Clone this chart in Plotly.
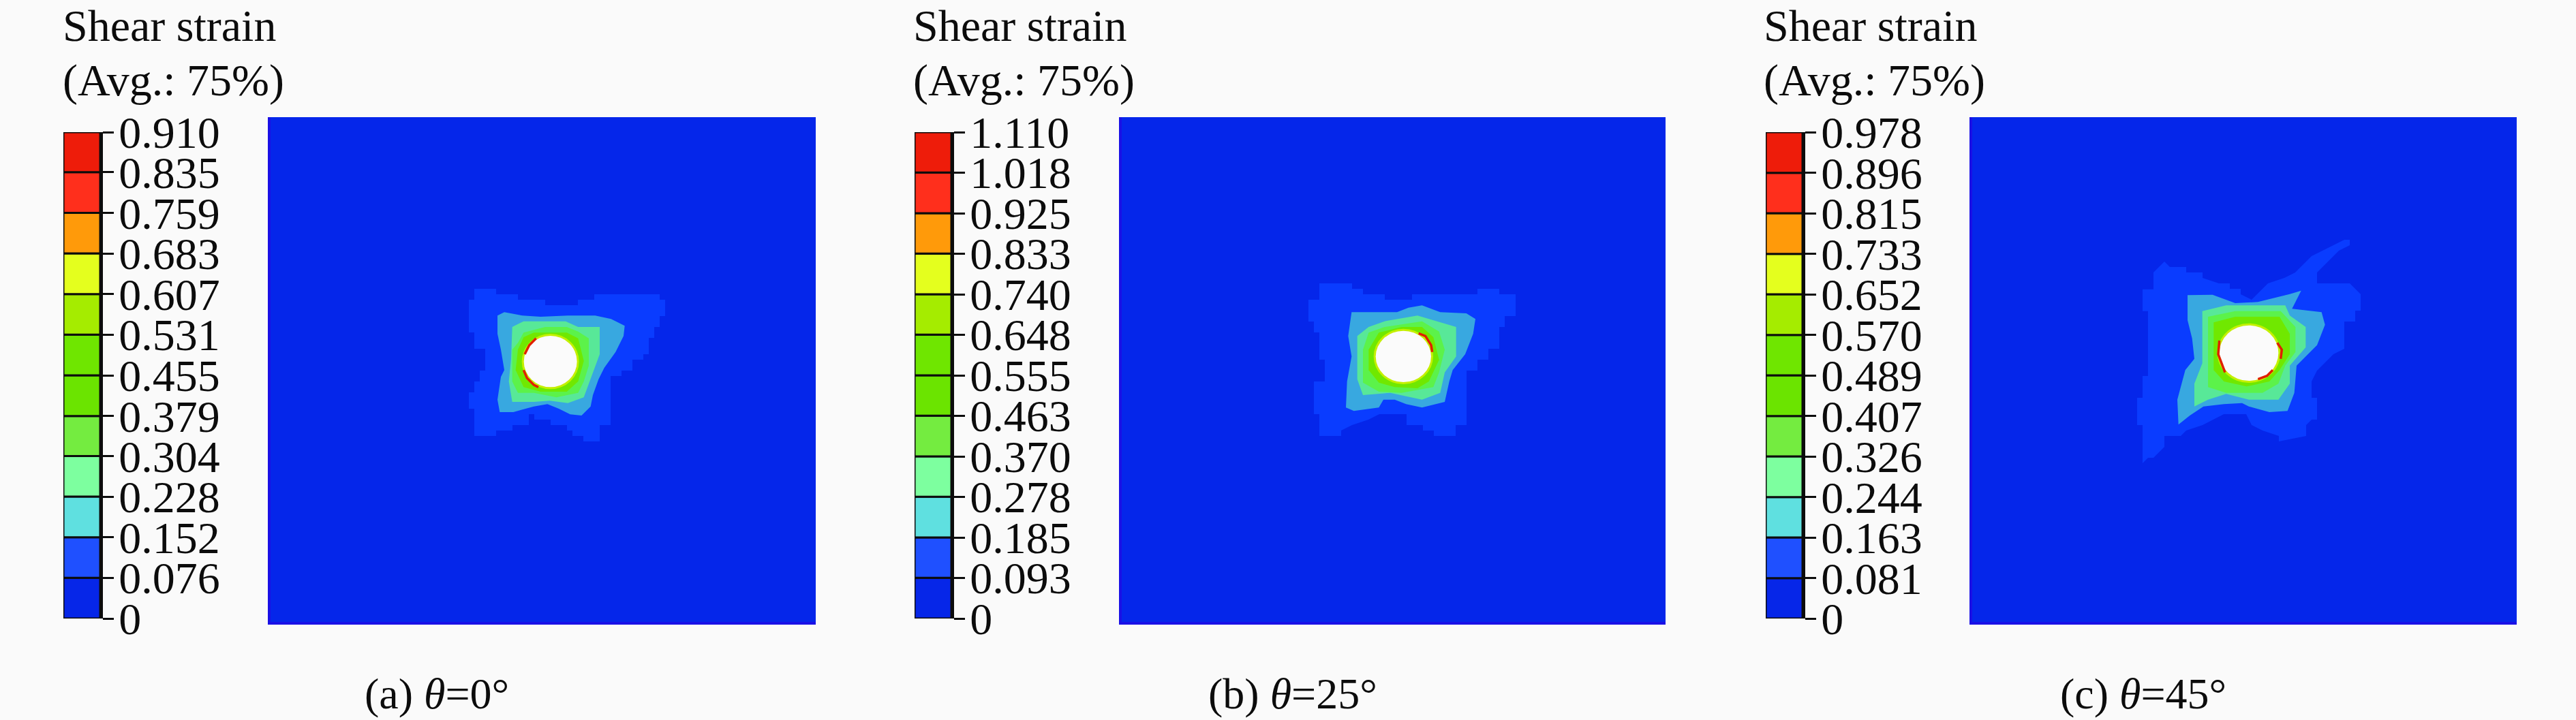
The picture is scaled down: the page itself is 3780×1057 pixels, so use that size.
import plotly.graph_objects as go

W, H = 3780, 1057
BG = "#fafafa"
INK = "#0c0c0c"
FONT = "Liberation Serif"

PANEL_NAMES = ["(a) <i>θ</i>=0°", "(b) <i>θ</i>=25°", "(c) <i>θ</i>=45°"]
TITLE_LINES = ["Shear strain", "(Avg.: 75%)"]

TICKS_A = [0, 0.076, 0.152, 0.228, 0.304, 0.379, 0.455, 0.531, 0.607, 0.683, 0.759, 0.835, 0.910]
TICKS_B = [0, 0.093, 0.185, 0.278, 0.370, 0.463, 0.555, 0.648, 0.740, 0.833, 0.925, 1.018, 1.110]
TICKS_C = [0, 0.081, 0.163, 0.244, 0.326, 0.407, 0.489, 0.570, 0.652, 0.733, 0.815, 0.896, 0.978]
BAND_COLORS = ["#0626e8", "#1f50ff", "#5fe0e0", "#7dff9f", "#74ec40", "#6be400",
               "#6fe600", "#a5ec00", "#e4ff1e", "#ff9a0a", "#ff2f1c", "#ee1c0a"]

FIELD_BASE = "#0526ea"
FIELD_COLORS = ["#0a3cff", "#38a8e0", "#58e898", "#5cf24a", "#70e800"]
RIM_COLOR = "#c4f000"
HOLE_COLOR = "#fbfbfb"
PEAK_COLOR = "#e02000"

# contour outlines, one list per band, lowest band first
A_BAND1 = [(168,132),(264,132),(264,156),(360,156),(360,180),(480,180),(480,204),(624,204),(624,180),(696,180),(696,156),(984,156),(984,180),(1008,180),(1008,252),(984,252),(984,300),(960,300),(960,348),(936,348),(936,420),(912,420),(912,444),(864,444),(864,492),(816,492),(816,516),(768,516),(768,732),(720,732),(720,804),(648,804),(648,780),(600,780),(600,756),(576,756),(576,732),(504,732),(504,708),(432,708),(432,684),(408,684),(408,732),(336,732),(336,756),(264,756),(264,780),(168,780),(168,660),(144,660),(144,588),(168,588),(168,540),(192,540),(192,492),(216,492),(216,396),(168,396),(168,324),(144,324),(144,180),(168,180)]
A_BAND2 = [(270,250),(300,235),(380,250),(460,255),(580,250),(700,250),(770,265),(830,295),(825,340),(790,410),(740,480),(715,530),(690,600),(680,650),(640,690),(590,685),(540,660),(490,640),(430,650),(340,675),(280,675),(270,620),(285,520),(300,490),(285,400),(270,330)]
A_BAND3 = [(335,300),(385,275),(480,275),(570,275),(625,300),(720,300),(720,420),(695,490),(670,560),(650,610),(580,635),(500,625),(430,630),(335,630),(320,540),(330,440)]
A_BAND4 = [(385,325),(480,300),(575,300),(625,320),(672,350),(672,470),(650,540),(625,590),(530,610),(430,590),(360,590),(335,540),(335,400),(360,370)]
A_BAND5 = [(385,345),(430,325),(575,325),(625,350),(650,450),(625,540),(575,585),(460,585),(385,565),(350,490),(360,400)]
A_PEAKS = [[(385,490),(400,525),(430,555),(450,565)], [(440,350),(410,380),(390,420)]]
A_HOLE = (503, 452, 117, 113)

B_BAND1 = [(168,108),(312,108),(312,132),(360,132),(360,156),(456,156),(456,180),(576,180),(576,156),(864,156),(864,132),(960,132),(960,156),(1032,156),(1032,252),(984,252),(984,300),(960,300),(960,396),(912,396),(912,444),(864,444),(864,492),(816,492),(816,732),(768,732),(768,780),(672,780),(672,756),(624,756),(624,732),(552,732),(552,684),(432,684),(384,708),(312,732),(264,756),(264,780),(168,780),(168,684),(144,684),(144,540),(192,540),(192,444),(168,444),(168,324),(144,324),(144,276),(120,276),(120,180),(168,180)]
B_BAND2 = [(310,235),(400,235),(510,235),(560,215),(620,205),(700,235),(815,240),(855,265),(845,330),(810,420),(755,490),(740,540),(720,630),(620,655),(550,640),(500,620),(450,620),(430,655),(320,670),(285,655),(290,540),(310,430),(295,340)]
B_BAND3 = [(385,300),(455,275),(600,250),(700,280),(770,300),(770,430),(720,500),(700,590),(620,620),(480,590),(360,600),(335,530),(335,340)]
B_BAND4 = [(385,325),(455,300),(620,275),(695,320),(720,400),(695,500),(670,565),(530,590),(430,585),(360,545),(360,400)]
B_BAND5 = [(430,325),(530,300),(620,300),(670,345),(695,445),(650,540),(600,570),(500,565),(430,545),(385,490),(385,400)]
B_PEAKS = [[(605,328),(635,340),(660,380),(665,410)]]
B_HOLE = (538, 430, 122, 113)

C_BAND1 = [(132,284),(180,284),(180,210),(204,186),(228,162),(252,186),(324,186),(324,210),(396,210),(396,234),(468,258),(516,258),(516,282),(564,282),(564,306),(612,330),(660,282),(684,258),(756,234),(804,210),(876,138),(972,90),(1020,66),(1044,66),(1044,90),(996,114),(948,162),(900,210),(900,258),(1044,258),(1068,282),(1092,306),(1092,378),(1068,378),(1068,426),(1020,426),(1020,546),(972,570),(924,618),(900,642),(876,690),(876,762),(900,762),(900,858),(876,858),(852,882),(852,930),(732,954),(732,930),(660,906),(612,882),(588,834),(490,834),(444,858),(396,882),(324,906),(300,930),(228,930),(228,978),(180,1026),(156,1026),(132,1050),(132,882),(108,882),(108,762),(132,762),(132,666),(156,666),(156,380),(132,380)]
C_BAND2 = [(330,310),(440,308),(540,345),(640,340),(780,305),(830,290),(790,370),(920,385),(935,440),(900,530),(810,620),(800,740),(770,820),(690,825),(600,800),(570,785),(490,790),(400,800),(340,840),(290,880),(285,770),(320,640),(360,590),(350,500),(330,420)]
C_BAND3 = [(395,380),(500,355),(760,355),(780,400),(850,450),(850,540),(780,620),(780,700),(730,770),(600,770),(500,745),(420,770),(360,800),(360,700),(395,610),(395,500)]
C_BAND4 = [(420,405),(540,380),(740,380),(805,450),(805,560),(760,620),(730,700),(660,740),(500,740),(420,715),(420,600),(420,500)]
C_BAND5 = [(445,430),(540,405),(735,405),(780,480),(780,570),(735,640),(690,690),(590,712),(490,690),(445,640),(445,520)]
C_PEAKS = [[(725,520),(745,550),(740,590)], [(640,680),(680,665),(705,640)], [(470,510),(465,570),(495,650)]]
C_HOLE = (600, 565, 130, 122)

# model extents of each plate in the contour-outline units
A_RANGE = ((-729, 1671), (1599, -624))
B_RANGE = ((-702, 1692), (1599, -624))
C_RANGE = ((-618, 1779), (1749, -474))

panels = [
    dict(ticks=TICKS_A, bands=[A_BAND1, A_BAND2, A_BAND3, A_BAND4, A_BAND5], peaks=A_PEAKS, hole=A_HOLE, rng=A_RANGE,
         plate=(397, 1197), bar=(93, 147), title_x=92, cap_x=641),
    dict(ticks=TICKS_B, bands=[B_BAND1, B_BAND2, B_BAND3, B_BAND4, B_BAND5], peaks=B_PEAKS, hole=B_HOLE, rng=B_RANGE,
         plate=(1646, 2444), bar=(1342, 1396), title_x=1340, cap_x=1897),
    dict(ticks=TICKS_C, bands=[C_BAND1, C_BAND2, C_BAND3, C_BAND4, C_BAND5], peaks=C_PEAKS, hole=C_HOLE, rng=C_RANGE,
         plate=(2894, 3693), bar=(2591, 2645), title_x=2588, cap_x=3145),
]

PLATE_Y = (172, 913)
BAR_Y = (194, 908)

fig = go.Figure()
layout = {}
shapes = []
annotations = []


def dom_x(a):
    return [a[0] / W, a[1] / W]


def dom_y(a):
    return [1 - a[1] / H, 1 - a[0] / H]


def ax(letter, n):
    return letter if n == 1 else f"{letter}{n}"


for i, p in enumerate(panels):
    n_plate = 2 * i + 1
    n_bar = 2 * i + 2
    xa, ya = ax("x", n_plate), ax("y", n_plate)
    xb, yb = ax("x", n_bar), ax("y", n_bar)
    layout[ax("xaxis", n_plate)] = dict(domain=dom_x(p["plate"]), range=list(p["rng"][0]), anchor=ya, automargin=False,
                                        showgrid=False, zeroline=False, showticklabels=False, ticks="",
                                        showline=True, linecolor="#1a10e6", linewidth=4)
    layout[ax("yaxis", n_plate)] = dict(domain=dom_y(PLATE_Y), range=list(p["rng"][1]), anchor=xa, automargin=False,
                                        showgrid=False, zeroline=False, showticklabels=False, ticks="",
                                        showline=True, linecolor="#1a10e6", linewidth=4)
    shapes.append(dict(type="rect", xref=f"{xa} domain", yref=f"{ya} domain", x0=0, x1=1, y0=0, y1=1,
                       fillcolor=FIELD_BASE, line_width=0, layer="below"))

    for poly, col in zip(p["bands"], FIELD_COLORS):
        fig.add_trace(go.Scatter(x=[q[0] for q in poly], y=[q[1] for q in poly], mode="lines", fill="toself",
                                 fillcolor=col, line=dict(width=0, color=col), xaxis=xa, yaxis=ya,
                                 hoverinfo="skip", showlegend=False))

    cx, cy, rx, ry = p["hole"]
    shapes.append(dict(type="circle", xref=xa, yref=ya, x0=cx - rx - 9, x1=cx + rx + 9, y0=cy - ry - 9, y1=cy + ry + 9,
                       fillcolor=RIM_COLOR, line_width=0, layer="above"))
    shapes.append(dict(type="circle", xref=xa, yref=ya, x0=cx - rx, x1=cx + rx, y0=cy - ry, y1=cy + ry,
                       fillcolor=HOLE_COLOR, line_width=0, layer="above"))
    for arc in p["peaks"]:
        path = "M" + " L".join(f"{q[0]},{q[1]}" for q in arc)
        shapes.append(dict(type="path", xref=xa, yref=ya, path=path, line=dict(color=PEAK_COLOR, width=3.5), layer="above"))

    ticks = p["ticks"]
    labels = ["0" if t == 0 else f"{t:.3f}" for t in ticks]
    fig.add_trace(go.Bar(x=[0.5] * 12, y=[ticks[k + 1] - ticks[k] for k in range(12)], base=ticks[:-1], width=1,
                         marker=dict(color=BAND_COLORS, line=dict(color=INK, width=3)), xaxis=xb, yaxis=yb,
                         hoverinfo="skip", showlegend=False))
    layout[ax("xaxis", n_bar)] = dict(domain=dom_x(p["bar"]), range=[0, 1], anchor=yb, showgrid=False, zeroline=False,
                                      automargin=False, showticklabels=False, ticks="", showline=False)
    layout[ax("yaxis", n_bar)] = dict(domain=dom_y(BAR_Y), range=[0, ticks[-1]], anchor=xb, side="right", showgrid=False,
                                      automargin=False, zeroline=False, tickmode="array", tickvals=ticks, ticktext=labels,
                                      ticks="outside", ticklen=16, tickwidth=3, tickcolor=INK, ticklabelstandoff=-6,
                                      tickfont=dict(family=FONT, size=66, color=INK), showline=True, linecolor=INK, linewidth=4)

    for text, yc in zip(TITLE_LINES, (38, 118)):
        annotations.append(dict(text=text, x=p["title_x"] / W, y=1 - yc / H, xref="paper", yref="paper", xanchor="left",
                                yanchor="middle", showarrow=False, xshift=-2,
                                font=dict(family=FONT, size=66, color=INK)))
    annotations.append(dict(text=PANEL_NAMES[i], x=p["cap_x"] / W, y=1 - 1018 / H, xref="paper", yref="paper",
                            xanchor="center", yanchor="middle", showarrow=False,
                            font=dict(family=FONT, size=64, color=INK)))

fig.update_layout(width=W, height=H, margin=dict(l=0, r=0, t=0, b=0), paper_bgcolor=BG, plot_bgcolor=BG,
                  barmode="overlay", showlegend=False, shapes=shapes, annotations=annotations, **layout)
fig.write_html("out.html", config=dict(displayModeBar=False),
               post_script="document.body.style.margin='0';document.body.style.background='#fafafa';document.documentElement.style.overflow='hidden';")
